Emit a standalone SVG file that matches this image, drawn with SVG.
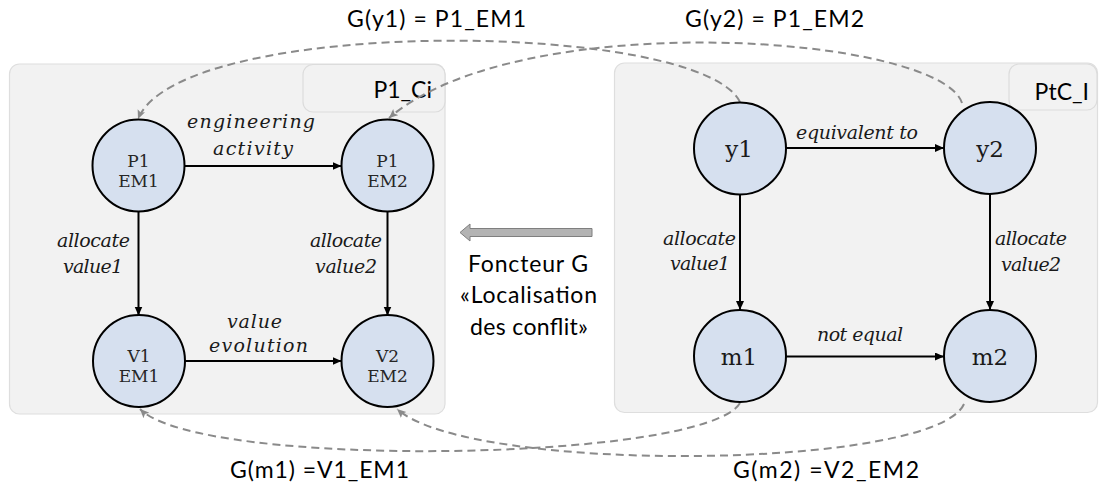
<svg xmlns="http://www.w3.org/2000/svg" width="1101" height="491" viewBox="0 0 1101 491">
<defs>
<style>
.panel{fill:#f2f2f2;stroke:#dedede;stroke-width:1.2}
.tab{fill:#f2f2f2;stroke:#dcdcdc;stroke-width:1.2}
.node{fill:#d6e0ef;stroke:#000;stroke-width:2}
.nt{font-family:"DejaVu Serif","Liberation Serif",serif;font-size:17px;fill:#262626;text-anchor:middle}
.nb{font-family:"DejaVu Serif","Liberation Serif",serif;font-size:23px;fill:#1a1a1a;text-anchor:middle}
.it{font-family:"DejaVu Serif","Liberation Serif",serif;font-style:italic;font-size:19px;fill:#1a1a1a}
.sans{font-family:Lato,"Open Sans","Liberation Sans",sans-serif;font-size:23px;fill:#000}
.solid{fill:none;stroke:#000;stroke-width:2}
.dash{fill:none;stroke:#8a8a8a;stroke-width:2;stroke-dasharray:8 5}
</style>
<marker id="ah" markerUnits="userSpaceOnUse" markerWidth="10" markerHeight="9" refX="9" refY="4" orient="auto">
<path d="M0,0 L9,4 L0,8 z" fill="#000"/>
</marker>
<marker id="gh" markerUnits="userSpaceOnUse" markerWidth="10" markerHeight="9" refX="9" refY="4" orient="auto">
<path d="M0,0 L9,4 L0,8 L2,4 z" fill="#8a8a8a"/>
</marker>
</defs>
<rect width="1101" height="491" fill="#fff"/>

<g id="panel-left">
<rect class="panel" x="9.5" y="64" width="435.5" height="350" rx="10"/>
<rect class="tab" x="303" y="64.5" width="142" height="47.5" rx="10"/>
<text class="sans" x="432" y="98" font-size="24" text-anchor="end">P1_Ci</text>
</g>
<g id="panel-right">
<rect class="panel" x="614.5" y="63" width="483" height="349.5" rx="10"/>
<rect class="tab" x="1009" y="64" width="88" height="46" rx="10"/>
<text class="sans" x="1089" y="100" font-size="24" text-anchor="end">PtC_I</text>
</g>

<g id="connectors">
<path class="solid" d="M184,166 L341.5,166" marker-end="url(#ah)"/>
<path class="solid" d="M138.5,212 L138.5,315.5" marker-end="url(#ah)"/>
<path class="solid" d="M387.5,212 L387.5,315.5" marker-end="url(#ah)"/>
<path class="solid" d="M185,361 L341.5,361" marker-end="url(#ah)"/>
<path class="solid" d="M786,148 L944,148" marker-end="url(#ah)"/>
<path class="solid" d="M740,194.5 L740,310" marker-end="url(#ah)"/>
<path class="solid" d="M990,194 L990,310" marker-end="url(#ah)"/>
<path class="solid" d="M786,356.5 L944,356.5" marker-end="url(#ah)"/>
<path class="dash" d="M740,102 C700,20 180,15 138,119" marker-end="url(#gh)"/>
<path class="dash" d="M962,103 C940,35 520,5 389,118" marker-end="url(#gh)"/>
<path class="dash" d="M740,403 C705,462 200,470 140,409" marker-end="url(#gh)"/>
<path class="dash" d="M964,404 C935,470 470,475 397,409" marker-end="url(#gh)"/>
<text class="it" x="187" y="128" font-size="20" textLength="128">engineering</text>
<text class="it" x="213" y="155" font-size="20" textLength="80">activity</text>
<text class="it" x="57" y="247" font-size="18" textLength="73">allocate</text>
<text class="it" x="63" y="273" font-size="18" textLength="60">value1</text>
<text class="it" x="310" y="247" font-size="18" textLength="72">allocate</text>
<text class="it" x="315" y="273" font-size="18" textLength="62">value2</text>
<text class="it" x="227" y="328" textLength="55">value</text>
<text class="it" x="209" y="352" textLength="99">evolution</text>
<text class="it" x="796" y="139" font-size="18" textLength="122">equivalent to</text>
<text class="it" x="663" y="245" font-size="18" textLength="73">allocate</text>
<text class="it" x="670" y="270" font-size="18" textLength="60">value1</text>
<text class="it" x="995" y="245" font-size="18" textLength="72">allocate</text>
<text class="it" x="1001" y="271" font-size="18" textLength="60">value2</text>
<text class="it" x="817" y="341" font-size="18" textLength="86">not equal</text>
<text class="sans" x="347" y="27" font-size="22" textLength="179">G(y1) = P1_EM1</text>
<text class="sans" x="685" y="27" font-size="22" textLength="179">G(y2) = P1_EM2</text>
<text class="sans" x="230" y="478" font-size="22" textLength="179">G(m1) =V1_EM1</text>
<text class="sans" x="733" y="478" font-size="22" textLength="186">G(m2) =V2_EM2</text>
</g>

<g id="functor">
<path d="M592,228.5 L470,228.5 L470,224 L460,232.5 L470,241 L470,236.5 L592,236.5 z" fill="#b3b3b3" stroke="#7f7f7f" stroke-width="1"/>
<text class="sans" x="468" y="272" textLength="120">Foncteur G</text>
<text class="sans" x="460" y="303" textLength="137">«Localisation</text>
<text class="sans" x="470" y="335" textLength="118">des conflit»</text>
</g>

<g id="node-p1em1"><circle class="node" cx="138.5" cy="165.5" r="46"/><text class="nt" x="138.5" y="166.5">P1</text><text class="nt" x="138.5" y="186.5">EM1</text></g>
<g id="node-p1em2"><circle class="node" cx="387.5" cy="165.5" r="46"/><text class="nt" x="387.5" y="166.5">P1</text><text class="nt" x="387.5" y="186.5">EM2</text></g>
<g id="node-v1em1"><circle class="node" cx="139" cy="361" r="46"/><text class="nt" x="139" y="362">V1</text><text class="nt" x="139" y="382">EM1</text></g>
<g id="node-v2em2"><circle class="node" cx="387.5" cy="361" r="46"/><text class="nt" x="387.5" y="362">V2</text><text class="nt" x="387.5" y="382">EM2</text></g>
<g id="node-y1"><circle class="node" cx="740" cy="148.5" r="46"/><text class="nb" x="739" y="156.5">y1</text></g>
<g id="node-y2"><circle class="node" cx="990" cy="148" r="46"/><text class="nb" x="990" y="156.5">y2</text></g>
<g id="node-m1"><circle class="node" cx="740" cy="356" r="46"/><text class="nb" x="739" y="365">m1</text></g>
<g id="node-m2"><circle class="node" cx="990" cy="356" r="46"/><text class="nb" x="990" y="365">m2</text></g>
</svg>
